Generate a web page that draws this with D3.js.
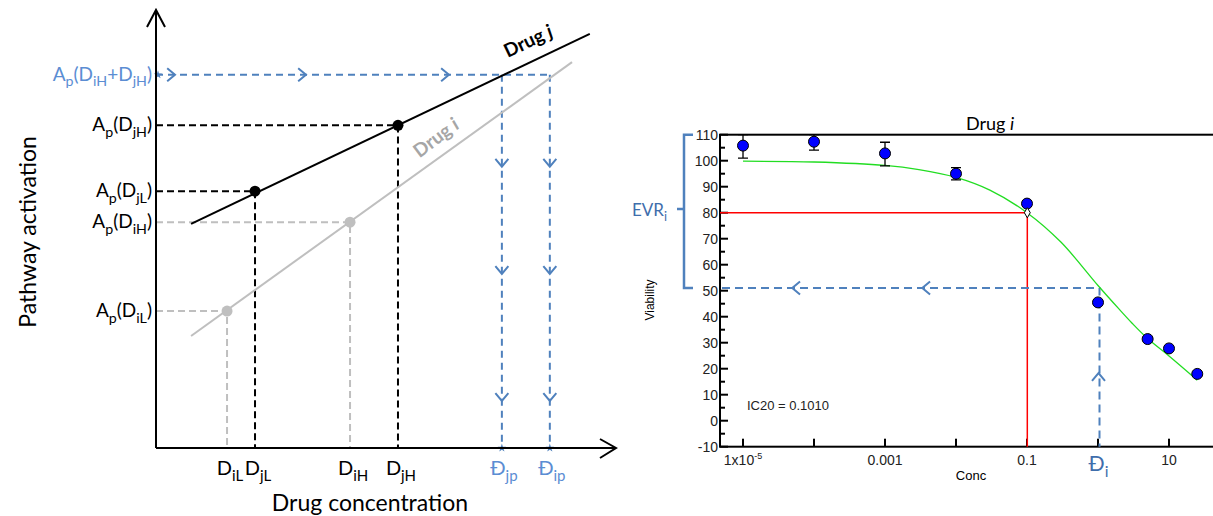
<!DOCTYPE html>
<html>
<head>
<meta charset="utf-8">
<script src="https://cdn.jsdelivr.net/npm/d3@7"></script>
<style>
  body { margin: 0; background: #fff; }
  svg { display: block; }
  .cal { font-family: Lato, "Noto Sans", sans-serif; }
  .ari { font-family: "Liberation Sans", Arial, sans-serif; }
</style>
</head>
<body>
<svg width="1213" height="516"></svg>
<script>
// ---------- left panel: pathway activation vs concentration (abstract units 0-100)
const drugJLine = [[7.9, 51.4], [97.7, 95.0]]
const drugILine = [[7.9, 25.7], [93.7, 88.5]]
const drugJPoints = [{conc: 22.3, act: 58.9, sub: "jL"}, {conc: 54.5, act: 74.0, sub: "jH"}]
const drugIPoints = [{conc: 16.0, act: 31.4, sub: "iL"}, {conc: 43.7, act: 51.8, sub: "iH"}]
const combinedAct = 85.6
const projected = [{conc: 77.9, sub: "jp"}, {conc: 88.7, sub: "ip"}]
const hArrowConc = [3.4, 32.9, 65.1]
const vArrowAct = [65.4, 40.8, 11.7]

// ---------- right panel: viability dose response
const concs = [1e-5, 1e-4, 1e-3, 1e-2, 0.1, 1, 5, 10, 25]
const viability = [105.8, 107.3, 102.8, 95.0, 83.5, 45.5, 31.4, 27.8, 18.0]
const errLow = [101.0, 104.1, 98.0, 92.6, 82.6, 44.8, 30.7, 27.2, 17.3]
const errHigh = [110.0, 110.0, 107.1, 97.3, 84.4, 46.2, 32.1, 28.4, 18.7]
const fitConc = [1e-5, 1e-4, 1e-3, 3e-3, 1e-2, 0.03, 0.1, 0.3, 1, 2, 3, 5, 10, 25]
const fitViab = [99.8, 99.5, 98.2, 96.6, 93.6, 88.7, 80.0, 68.7, 52.0, 42.8, 37.6, 31.6, 24.9, 15.6]
const yTickVals = [-10, 0, 10, 20, 30, 40, 50, 60, 70, 80, 90, 100, 110]
const yMinorVals = [-5, 5, 15, 25, 35, 45, 55, 65, 75, 85, 95, 105]
const xTickVals = [1e-5, 1e-4, 1e-3, 1e-2, 0.1, 1, 10, 100]
const xTickLabels = ["1x10", "", "0.001", "", "0.1", "", "10", ""]
const ic20 = 0.101
const ic20Viab = 80
const diConc = 1.05
const diViab = 51.0
const leftArrowConc = [5.6e-5, 3.8e-3]
const upArrowViab = 16.8

const blue = "#4f81bd"
const blueText = "#5b8dd3"
const darkBlue = "#3f6eac"
const gray = "#bfbfbf"

const svg = d3.select("svg")

// text with sub-scripted parts: parts = [["A"], ["p", 1], ...]
function rich(g, x, y, parts, size, anchor, color) {
    const t = g.append("text")
        .attr("x", x).attr("y", y)
        .attr("text-anchor", anchor)
        .style("font-size", size + "px")
        .style("fill", color)
    let off = 0
    parts.forEach(p => {
        const ts = t.append("tspan").text(p[0])
        const want = p[1] ? size * 0.3 : 0
        if (want != off) ts.attr("dy", want - off)
        off = want
        if (p[1]) ts.style("font-size", (size * 0.75) + "px")
    })
    return t
}

function chevron(g, x, y, angle, color, s) {
    g.append("path")
        .attr("d", `M${-s * 0.6},${-s} L${s * 0.6},0 L${-s * 0.6},${s}`)
        .attr("transform", `translate(${x},${y}) rotate(${angle})`)
        .style("fill", "none").style("stroke", color).style("stroke-width", 2)
}

// ================= LEFT PANEL =================
const xL = d3.scaleLinear().domain([0, 100]).range([156, 600])
const yL = d3.scaleLinear().domain([0, 100]).range([448, 12])
const left = svg.append("g").attr("class", "cal")
const line = d3.line().x(d => xL(d[0])).y(d => yL(d[1]))

// dashed guides for drug i (gray) and drug j (black)
function guides(pts, color) {
    pts.forEach(d => {
        left.append("path")
            .attr("d", `M${xL(0)},${yL(d.act)} H${xL(d.conc)} V${yL(0)}`)
            .style("fill", "none").style("stroke", color)
            .style("stroke-width", 2).style("stroke-dasharray", "7,4")
    })
}
guides(drugIPoints, gray)
guides(drugJPoints, "#000")

// blue combined activation guide
left.append("line")
    .attr("x1", xL(0)).attr("x2", xL(projected[1].conc))
    .attr("y1", yL(combinedAct)).attr("y2", yL(combinedAct))
    .style("stroke", blue).style("stroke-width", 2).style("stroke-dasharray", "7,5")
projected.forEach(d => {
    left.append("line")
        .attr("x1", xL(d.conc)).attr("x2", xL(d.conc))
        .attr("y1", yL(combinedAct)).attr("y2", yL(0))
        .style("stroke", blue).style("stroke-width", 2).style("stroke-dasharray", "7,5")
    vArrowAct.forEach(a => chevron(left, xL(d.conc), yL(a), 90, blue, 6.5))
    left.append("path")
        .attr("d", d3.symbol(d3.symbolStar, 22)())
        .attr("transform", `translate(${xL(d.conc)},${yL(0)})`)
        .style("fill", blue)
})
hArrowConc.forEach(c => chevron(left, xL(c), yL(combinedAct), 0, blue, 6.5))
left.append("path")
    .attr("d", d3.symbol(d3.symbolStar, 22)())
    .attr("transform", `translate(${xL(0) + 2},${yL(combinedAct)})`)
    .style("fill", blue)

// drug lines
left.append("path").attr("d", line(drugILine))
    .style("stroke", gray).style("stroke-width", 2).style("fill", "none")
left.append("path").attr("d", line(drugJLine))
    .style("stroke", "#000").style("stroke-width", 2).style("fill", "none")

left.selectAll(".ip").data(drugIPoints).enter().append("circle")
    .attr("cx", d => xL(d.conc)).attr("cy", d => yL(d.act)).attr("r", 5.5)
    .style("fill", gray)
left.selectAll(".jp").data(drugJPoints).enter().append("circle")
    .attr("cx", d => xL(d.conc)).attr("cy", d => yL(d.act)).attr("r", 5.5)
    .style("fill", "#000")

// axes with open arrow heads
left.append("path")
    .attr("d", `M${xL(0)},${yL(0)} V10 M147,27 L${xL(0)},10 L165,27`)
    .style("fill", "none").style("stroke", "#000").style("stroke-width", 2)
left.append("path")
    .attr("d", `M${xL(0)},${yL(0)} H616 M600,439 L616,${yL(0)} L600,458`)
    .style("fill", "none").style("stroke", "#000").style("stroke-width", 2)

// y labels
const yLab = drugJPoints.concat(drugIPoints)
yLab.forEach(d => {
    rich(left, 152, yL(d.act) + 6, [["A"], ["p", 1], ["(D"], [d.sub, 1], [")"]], 19, "end", "#000")
})
rich(left, 152, yL(combinedAct) + 6,
    [["A"], ["p", 1], ["(D"], ["iH", 1], ["+D"], ["jH", 1], [")"]], 19, "end", blueText)

// x labels
yLab.forEach(d => {
    rich(left, xL(d.conc) + 3, 475, [["D"], [d.sub, 1]], 20, "middle", "#000")
})
projected.forEach(d => {
    rich(left, xL(d.conc) + 2, 475, [["Đ"], [d.sub, 1]], 20, "middle", blueText)
})

// line labels
left.append("text")
    .attr("transform", "translate(531,47) rotate(-25.5)")
    .attr("text-anchor", "middle")
    .style("font-size", "19px").style("font-weight", "bold")
    .html('Drug <tspan font-style="italic">j</tspan>')
left.append("text")
    .attr("transform", "translate(440,143) rotate(-37)")
    .attr("text-anchor", "middle")
    .style("font-size", "19px").style("font-weight", "bold").style("fill", "#a6a6a6")
    .html('Drug <tspan font-style="italic">i</tspan>')

// axis titles
left.append("text")
    .attr("transform", "translate(36,232) rotate(-90)")
    .attr("text-anchor", "middle")
    .style("font-size", "23px")
    .text("Pathway activation")
left.append("text")
    .attr("x", 370).attr("y", 511)
    .attr("text-anchor", "middle")
    .style("font-size", "23px")
    .text("Drug concentration")

// ================= RIGHT PANEL =================
const xR = d3.scaleLog().domain([Math.pow(10, -5.324), 100]).range([720, 1240])
const yR = d3.scaleLinear().domain([-10, 110]).range([446.7, 134.7])
const right = svg.append("g")

right.append("rect")
    .attr("x", xR.range()[0]).attr("y", yR(110))
    .attr("width", 540).attr("height", yR(-10) - yR(110))
    .style("fill", "none").style("stroke", "#000").style("stroke-width", 2)

// ticks inside the frame
right.selectAll(".ytk").data(yTickVals).enter().append("line")
    .attr("x1", 720).attr("x2", 728)
    .attr("y1", d => yR(d)).attr("y2", d => yR(d))
    .style("stroke", "#000").style("stroke-width", 2)
right.selectAll(".ymn").data(yMinorVals).enter().append("line")
    .attr("x1", 720).attr("x2", 725)
    .attr("y1", d => yR(d)).attr("y2", d => yR(d))
    .style("stroke", "#000").style("stroke-width", 2)
right.selectAll(".xtk").data(xTickVals).enter().append("line")
    .attr("x1", d => xR(d)).attr("x2", d => xR(d))
    .attr("y1", yR(-10)).attr("y2", yR(-10) - 8)
    .style("stroke", "#000").style("stroke-width", 2)

right.selectAll(".ylab").data(yTickVals).enter().append("text")
    .attr("class", "ari")
    .attr("x", 718).attr("y", d => yR(d) + 5)
    .attr("text-anchor", "end")
    .style("font-size", "14px").style("fill", "#222")
    .text(d => d)

xTickVals.forEach((v, i) => {
    const lab = xTickLabels[i]
    if (!lab) return
    const t = right.append("text").attr("class", "ari")
        .attr("x", xR(v)).attr("y", 465)
        .attr("text-anchor", "middle")
        .style("font-size", "14px").style("fill", "#222")
    t.append("tspan").text(lab)
    if (i == 0) t.append("tspan").attr("dy", -6).style("font-size", "9px").text("-5")
})

// red IC20 guide
right.append("path")
    .attr("d", `M${xR.range()[0]},${yR(ic20Viab)} H${xR(ic20)} V${yR(-10)}`)
    .style("fill", "none").style("stroke", "#ff0000").style("stroke-width", 1.5)

// blue dashed Di guide
right.append("path")
    .attr("d", `M${xR.range()[0] + 2},${yR(diViab)} H${xR(diConc)} V${yR(-10)}`)
    .style("fill", "none").style("stroke", blue).style("stroke-width", 2)
    .style("stroke-dasharray", "8,5")
leftArrowConc.forEach(c => chevron(right, xR(c), yR(diViab), 180, blue, 6.5))
chevron(right, xR(diConc) - 1, yR(upArrowViab), -90, blue, 6.5)

// fitted curve
const fit = fitConc.map((c, i) => [c, fitViab[i]])
right.append("path")
    .attr("d", d3.line().x(d => xR(d[0])).y(d => yR(d[1])).curve(d3.curveCatmullRom)(fit))
    .style("fill", "none").style("stroke", "#22dd22").style("stroke-width", 1.3)

// error bars and points
concs.forEach((c, i) => {
    const x = xR(c)
    right.append("path")
        .attr("d", `M${x},${yR(errLow[i])} V${yR(errHigh[i])} M${x - 5},${yR(errLow[i])} h10 M${x - 5},${yR(errHigh[i])} h10`)
        .style("stroke", "#000").style("stroke-width", 1.3).style("fill", "none")
})
right.selectAll(".pt").data(concs).enter().append("circle")
    .attr("cx", d => xR(d)).attr("cy", (d, i) => yR(viability[i])).attr("r", 5.5)
    .style("fill", "#0000ff").style("stroke", "#000").style("stroke-width", 1)

right.append("path")
    .attr("d", d3.symbol(d3.symbolDiamond, 30)())
    .attr("transform", `translate(${xR(ic20)},${yR(ic20Viab)})`)
    .style("fill", "#fff").style("stroke", "#000").style("stroke-width", 1)

// bracket EVRi
right.append("path")
    .attr("d", `M693,${yR(110)} H684 V${yR(diViab)} H693 M684,209 H677`)
    .style("fill", "none").style("stroke", blue).style("stroke-width", 2.5)
rich(right.append("g").attr("class", "cal"), 632, 216, [["EVR"], ["i", 1]], 17, "start", darkBlue)

// titles
right.append("text").attr("class", "cal")
    .attr("x", 990).attr("y", 130).attr("text-anchor", "middle")
    .style("font-size", "18px")
    .html('Drug <tspan font-style="italic">i</tspan>')
right.append("text").attr("class", "ari")
    .attr("transform", "translate(654,300) rotate(-90)")
    .attr("text-anchor", "middle").style("font-size", "12px")
    .text("Viability")
right.append("text").attr("class", "ari")
    .attr("x", 971).attr("y", 480).attr("text-anchor", "middle")
    .style("font-size", "13px")
    .text("Conc")
right.append("text").attr("class", "ari")
    .attr("x", 747).attr("y", 410)
    .style("font-size", "13px").style("fill", "#222")
    .text("IC20 = 0.1010")
rich(right.append("g").attr("class", "cal"), xR(diConc) - 1, 471, [["Đ"], ["i", 1]], 21, "middle", darkBlue)
</script>
</body>
</html>
